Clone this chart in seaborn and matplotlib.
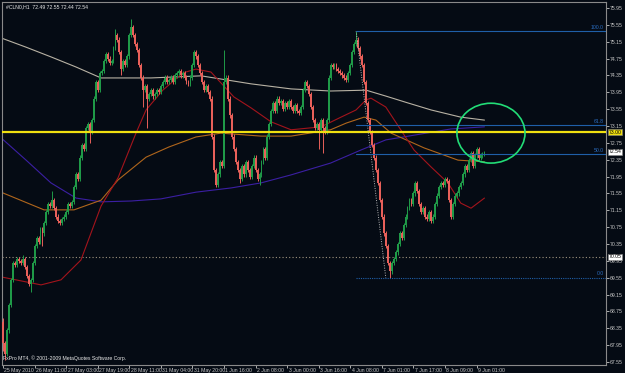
import numpy as np
import pandas as pd
import matplotlib
matplotlib.use("Agg")
import matplotlib.pyplot as plt
import matplotlib.transforms as mtransforms
from matplotlib.patches import Ellipse
import seaborn as sns

# ---------------- data ----------------
first_open = 68.5
closes = [
    68.0, 67.75, 68.3, 68.9, 69.5, 69.9, 69.85, 70.0, 69.95, 69.9,
    70.0, 69.8, 69.6, 69.4, 69.5, 69.9, 70.3, 70.5, 70.4, 70.7,
    70.6, 70.85, 71.1, 71.3, 71.25, 71.4, 71.2, 71.0, 70.9, 70.85,
    70.95, 71.0, 71.1, 71.3, 71.25, 71.35, 71.7, 72.0, 71.9, 72.4,
    72.7, 72.6, 73.1, 73.2, 73.0, 73.3, 73.8, 74.2, 74.0, 74.4,
    74.45, 74.7, 74.85, 74.75, 74.65, 74.7, 75.0, 75.3, 75.2, 74.9,
    74.5, 74.7, 74.6, 74.8, 75.3, 75.5, 75.3, 75.1, 74.95, 74.6,
    74.3, 74.0, 74.1, 73.8, 73.9, 74.0, 73.85, 73.9, 74.0, 73.95,
    74.1, 74.2, 74.3, 74.2, 74.25, 74.3, 74.2, 74.35, 74.4, 74.45,
    74.35, 74.4, 74.3, 74.2, 74.15, 74.3, 74.6, 74.9, 74.8, 74.6,
    74.4, 74.2, 74.0, 74.1, 73.95, 73.8, 72.9, 72.1, 71.75, 72.0,
    72.3, 72.2, 74.2, 74.3, 73.8, 73.4, 72.9, 72.6, 72.3, 72.1,
    71.9, 72.2, 72.0, 72.3, 72.1, 71.95, 72.2, 72.4, 72.1, 71.9,
    72.0, 72.3, 72.6, 72.4, 72.9, 73.2, 73.5, 73.7, 73.5, 73.8,
    73.7, 73.75, 73.55, 73.7, 73.6, 73.75, 73.6, 73.5, 73.65, 73.5,
    73.45, 73.6, 74.0, 74.2, 74.1, 73.9, 73.6, 73.3, 73.1, 73.2,
    73.05, 73.3, 73.1, 73.0, 73.3, 74.3, 74.6, 74.55, 74.6, 74.5,
    74.45, 74.4, 74.35, 74.3, 74.25, 74.4, 74.6, 74.9, 75.1, 75.2,
    75.0, 74.8, 74.6, 74.2, 73.7, 73.3, 73.0, 72.7, 72.4, 72.1,
    71.8, 71.4, 71.0, 70.6, 70.3, 69.9, 69.7, 69.9, 70.0, 70.15,
    70.35, 70.6, 70.5, 70.8, 71.0, 71.2, 71.4, 71.3, 71.55, 71.8,
    71.6, 71.3, 71.1, 71.2, 71.0, 70.95, 71.1, 70.9, 71.0, 71.3,
    71.5, 71.7, 71.8, 71.75, 71.9, 71.85, 71.4, 71.0, 71.3, 71.5,
    71.55, 71.7, 71.8, 72.0, 72.2, 72.1, 72.35, 72.5, 72.2, 72.45,
    72.6, 72.4, 72.45, 72.49, 72.54,
]
# notable wick extremes: bar -> (high, low); None keeps the body edge
wick_bars = {
    0: (68.6, 67.8), 1: (None, 67.6), 10: (70.1, None), 14: (None, 69.2),
    20: (None, 70.3), 25: (71.6, None), 44: (None, 72.75), 57: (75.45, None),
    60: (None, 74.35), 65: (75.7, None), 71: (None, 73.6), 73: (None, 73.1),
    108: (None, 71.7), 112: (74.95, None), 120: (None, 71.8), 130: (None, 71.75),
    160: (None, 72.6), 162: (None, 72.5), 179: (75.40, None), 196: (None, 69.55),
    244: (72.55, 72.44),
}
wick_default = 0.05

# moving averages read at sample bars
ma_gray_bar = [-1, 11.7, 24.3, 37, 49.7, 75, 100.4, 125.7, 146, 166, 184, 194, 205, 217, 232, 244]
ma_gray_val = [75.24, 75.02, 74.79, 74.55, 74.29, 74.29, 74.34, 74.15, 74.03, 73.98, 74.0, 73.86, 73.7, 73.53, 73.36, 73.29]
ma_purple_bar = [-1, 11.7, 24.3, 37, 49.7, 64.9, 80, 97.8, 115.6, 130.8, 146, 166, 181.4, 194, 211.9, 227, 244]
ma_purple_val = [72.87, 72.34, 71.80, 71.44, 71.35, 71.37, 71.42, 71.58, 71.68, 71.80, 71.99, 72.27, 72.58, 72.82, 72.96, 73.08, 73.13]
ma_orange_bar = [-1, 20.8, 36, 49.7, 58.3, 72.5, 84, 97.8, 110.5, 130.8, 146, 166, 174, 183, 189, 196.7, 213.4, 230.6, 244]
ma_orange_val = [71.58, 71.16, 71.16, 71.39, 71.87, 72.41, 72.65, 72.89, 72.98, 72.91, 72.91, 73.06, 73.22, 73.36, 73.29, 72.98, 72.63, 72.34, 72.30]
ma_red_bar = [-1, 19.3, 29.4, 39.5, 49.7, 58.3, 67.4, 72.5, 81, 91.2, 97.8, 105.4, 110.5, 117, 125.7, 135.8, 146, 161.2, 171.3, 178.9, 184, 186.5, 194, 208.3, 216.9, 225.5, 232, 237.2, 244]
ma_red_val = [69.57, 69.38, 69.50, 69.97, 71.25, 71.92, 72.98, 73.53, 74.0, 74.41, 74.50, 74.43, 74.17, 73.84, 73.58, 73.25, 73.06, 73.13, 73.36, 73.53, 73.77, 73.81, 73.60, 72.58, 72.18, 71.80, 71.32, 71.20, 71.44]

fib_levels = [100.0, 61.8, 50.0, 0.0]
fib_high, fib_low = 75.40, 69.55
fib_start_bar, fib_end_bar = 179, 194
yellow_level = 73.00
dotted_level = 70.05
current_price = 72.54

xtick_labels = ["25 May 2010", "26 May 11:00", "27 May 03:00", "27 May 19:00",
                "28 May 11:00", "31 May 04:00", "31 May 20:00", "1 Jun 16:00",
                "2 Jun 08:00", "3 Jun 00:00", "3 Jun 16:00", "4 Jun 08:00",
                "7 Jun 01:00", "7 Jun 17:00", "8 Jun 09:00", "9 Jun 01:00"]
xtick_step = 16
ytick_values = [75.95, 75.55, 75.15, 74.75, 74.35, 73.95, 73.55, 73.15, 72.75, 72.35,
                71.95, 71.55, 71.15, 70.75, 70.35, 69.95, 69.55, 69.15, 68.75, 68.35,
                67.95, 67.55]
title_text = "#CLN0,H1  72.49 72.55 72.44 72.54"
footer_text = "FxPro MT4, \u00a9 2001-2009 MetaQuotes Software Corp."

# ---------------- build OHLC table ----------------
n = len(closes)
opens = [first_open] + closes[:-1]
opens[244] = 72.49
highs, lows = [], []
for i in range(n):
    hi = max(opens[i], closes[i]) + wick_default
    lo = min(opens[i], closes[i]) - wick_default
    if i in wick_bars:
        h, l = wick_bars[i]
        if h is not None:
            hi = h
        if l is not None:
            lo = l
    highs.append(hi)
    lows.append(lo)
df = pd.DataFrame({"bar": np.arange(n), "open": opens, "high": highs,
                   "low": lows, "close": closes})

# ---------------- style ----------------
BG = "#050b14"
sns.set_style("dark", {"axes.facecolor": BG, "figure.facecolor": BG})
plt.rcParams["font.family"] = ["Liberation Sans", "DejaVu Sans"]
FS = 3.7

fig = plt.figure(figsize=(6.25, 3.73), dpi=100, facecolor=BG)
ax = fig.add_axes([2 / 625, 8 / 373, 604 / 625, 363 / 373])
ax.set_facecolor(BG)
ax.set_xlim(-0.5, 305.6)
ax.set_ylim(67.479, 76.092)

# horizontal levels
ax.axhline(dotted_level, color="#a09480", lw=0.8, ls=(0, (1, 2)), zorder=1)

# moving averages (seaborn)
for bars, vals, col in [(ma_gray_bar, ma_gray_val, "#b8b2a4"),
                        (ma_purple_bar, ma_purple_val, "#3b1fa3"),
                        (ma_orange_bar, ma_orange_val, "#b0661c"),
                        (ma_red_bar, ma_red_val, "#a3141c")]:
    sns.lineplot(x=bars, y=vals, ax=ax, color=col, lw=0.8, sort=False,
                 estimator=None, zorder=2)

# candles
bull = df["close"] >= df["open"]
for mask, col in [(bull, "#1f9a48"), (~bull, "#e8605a")]:
    d = df[mask]
    ax.vlines(d["bar"], d["low"], d["high"], color=col, lw=0.7, zorder=3)
    ax.bar(d["bar"], (d["close"] - d["open"]).abs().clip(lower=0.02),
           bottom=d[["open", "close"]].min(axis=1), width=0.95,
           color=col, lw=0, zorder=4)

# yellow line
ax.axhline(yellow_level, color="#f0e010", lw=1.6, zorder=5)

# fibonacci
ax.plot([fib_start_bar, fib_end_bar], [fib_high, fib_low], color="#b8b8b8",
        lw=0.7, ls=(0, (1, 1.5)), zorder=5)
for lev in fib_levels:
    price = fib_low + (fib_high - fib_low) * lev / 100.0
    ax.plot([fib_start_bar, 305.6], [price, price], color="#1f5fa8", lw=0.8,
            ls=(0, (1, 1)) if lev == 0.0 else "-", zorder=5)
    ax.text(304.5, price + 0.03, f"{lev:.1f}", color="#2a6cc0", fontsize=FS,
            ha="right", va="bottom", zorder=6)

# green ellipse
ax.add_patch(Ellipse((247.3, 72.98), 34.5, 1.42, fill=False,
                     edgecolor="#22dd77", lw=1.2, zorder=6))

# axes & ticks
for s in ax.spines.values():
    s.set_color("#8a8a8a")
    s.set_linewidth(0.8)
ax.yaxis.tick_right()
ax.set_yticks(ytick_values)
ax.set_yticklabels([f"{v:.2f}" for v in ytick_values])
ax.set_xticks([i * xtick_step for i in range(len(xtick_labels))])
ax.set_xticklabels(xtick_labels, ha="left")
ax.tick_params(axis="y", colors="#c8c8c8", labelsize=FS, length=2, width=0.6,
               pad=1, right=True, left=False)
ax.tick_params(axis="x", colors="#c8c8c8", labelsize=FS, length=2, width=0.6,
               pad=0.5, bottom=True)
offset = mtransforms.ScaledTranslation(1.0 / 72, 0, fig.dpi_scale_trans)
for lbl in ax.get_xticklabels():
    lbl.set_transform(lbl.get_transform() + offset)
ax.grid(False)
ax.set_xlabel("")
ax.set_ylabel("")

# price boxes on the axis
trans = mtransforms.blended_transform_factory(ax.transAxes, ax.transData)
for val, fc in [(yellow_level, "#f0e010"), (current_price, "#ffffff"),
                (dotted_level, "#ffffff")]:
    ax.text(1.004, val, f"{val:.2f}", transform=trans, fontsize=FS,
            color="black", ha="left", va="center", zorder=10, clip_on=False,
            bbox=dict(boxstyle="square,pad=0.12", fc=fc, ec="#888888", lw=0.4))

ax.text(0.007, 0.993, title_text, transform=ax.transAxes, color="#e8e8e8",
        fontsize=FS, ha="left", va="top")
ax.text(0.002, 0.012, footer_text, transform=ax.transAxes, color="#e8e8e8",
        fontsize=FS, ha="left", va="bottom")

fig.savefig("out.png", dpi=100, facecolor=BG)
